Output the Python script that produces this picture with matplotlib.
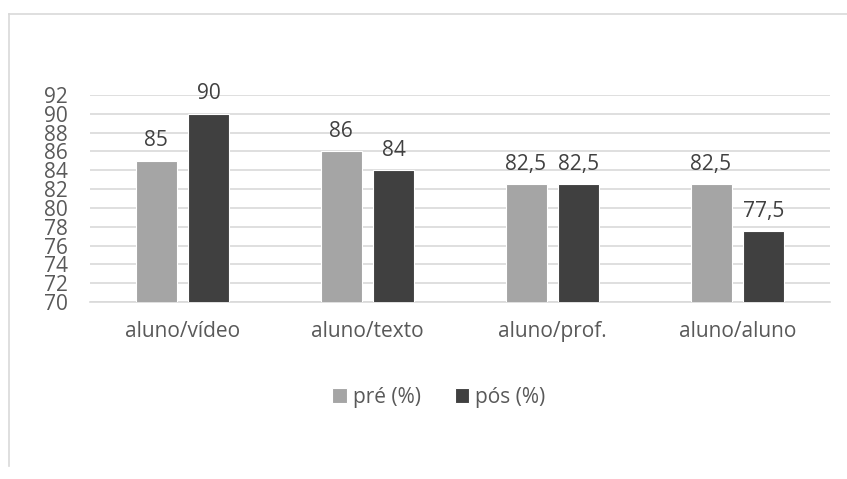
import matplotlib.pyplot as plt
from matplotlib.lines import Line2D
import numpy as np

plt.rcParams['font.family'] = ['Open Sans', 'DejaVu Sans']

categories = ['aluno/vídeo', 'aluno/texto', 'aluno/prof.', 'aluno/aluno']
pre = [85, 86, 82.5, 82.5]
pos = [90, 84, 82.5, 77.5]
y_ticks = list(range(70, 93, 2))

W, H = 847, 479
fig = plt.figure(figsize=(W / 100, H / 100), dpi=100)
ax = fig.add_axes([90 / W, 1 - 302 / H, 740 / W, 207 / H])

x = np.arange(len(categories))
bw = 0.222
off = 0.143
txt = '#595959'
fs = 15
b1 = ax.bar(x - off, pre, bw, color='#A5A5A5', edgecolor='white', linewidth=0.8, label='pré (%)', zorder=3)
b2 = ax.bar(x + off, pos, bw, color='#404040', edgecolor='white', linewidth=0.8, label='pós (%)', zorder=3)

fmt = lambda v: (f'{v:g}').replace('.', ',')
for bars, vals in [(b1, pre), (b2, pos)]:
    for r, v in zip(bars, vals):
        ax.annotate(fmt(v), (r.get_x() + r.get_width() / 2, v), xytext=(0, 7),
                    textcoords='offset points', ha='center', va='bottom',
                    fontsize=fs, color='#404040')

ax.set_xlim(-0.5, 3.5)
ax.set_ylim(70, 92)
ax.set_yticks(y_ticks)
ax.set_yticklabels([str(t) for t in y_ticks], fontsize=fs, color=txt)
ax.set_xticks(x)
ax.set_xticklabels(categories, fontsize=fs, color=txt)
ax.tick_params(axis='both', length=0)
ax.tick_params(axis='y', pad=16)
ax.tick_params(axis='x', pad=14)
ax.grid(True, axis='y', color='#D9D9D9', linewidth=1.2, zorder=0)
for s in ['top', 'right', 'left']:
    ax.spines[s].set_visible(False)
ax.spines['bottom'].set_color('#D9D9D9')
ax.spines['bottom'].set_linewidth(1.2)
ax.spines['bottom'].set_zorder(1)

fig.legend(handles=[b1, b2], labels=['pré (%)', 'pós (%)'], loc='center',
           bbox_to_anchor=(439 / W, 1 - 397 / H), ncol=2, frameon=False,
           fontsize=fs, labelcolor=txt, handlelength=0.7, handleheight=0.7,
           handletextpad=0.3, columnspacing=1.6)

# chart area border (top and left only visible)
fig.add_artist(Line2D([9 / W, 1], [1 - 14 / H, 1 - 14 / H], color='#D9D9D9', lw=1.2, transform=fig.transFigure))
fig.add_artist(Line2D([9 / W, 9 / W], [1 - 14 / H, 1 - 466 / H], color='#D9D9D9', lw=1.2, transform=fig.transFigure))

fig.savefig('out.png', dpi=100)
